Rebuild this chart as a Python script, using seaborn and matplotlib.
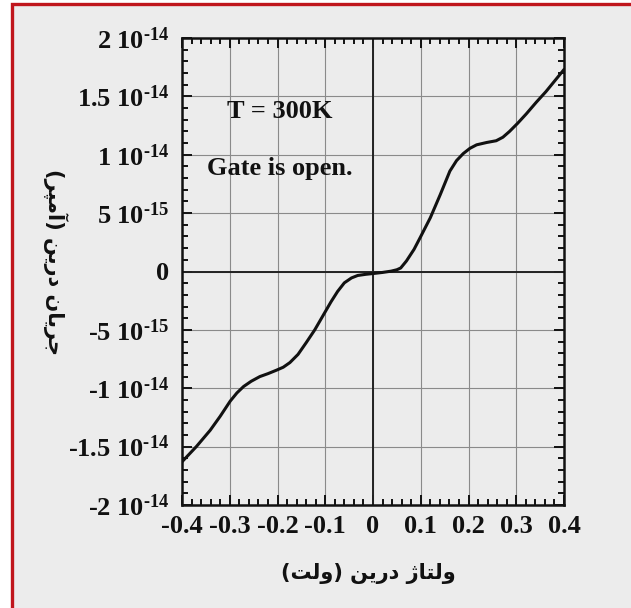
import matplotlib
matplotlib.use("Agg")
import matplotlib.pyplot as plt
from matplotlib.patches import Rectangle
from matplotlib.ticker import MultipleLocator, FixedLocator, FixedFormatter
import seaborn as sns
import pandas as pd

# Drain voltage (V) and drain current (in units of 1e-15 A) of the single-electron transistor
drain_voltage = [-0.400, -0.370, -0.341, -0.320, -0.299, -0.285, -0.271, -0.255, -0.237,
                 -0.220, -0.202, -0.188, -0.174, -0.157, -0.140, -0.122, -0.105, -0.088,
                 -0.074, -0.060, -0.045, -0.032, -0.015, 0.001, 0.020, 0.038, 0.050,
                 0.058, 0.070, 0.086, 0.100, 0.120, 0.141, 0.161, 0.175, 0.189, 0.203,
                 0.217, 0.238, 0.258, 0.272, 0.286, 0.303, 0.321, 0.342, 0.362, 0.380, 0.400]
drain_current_fA = [-16.3, -15.0, -13.6, -12.4, -11.1, -10.4, -9.85, -9.4, -9.0,
                    -8.75, -8.45, -8.2, -7.8, -7.1, -6.1, -5.0, -3.8, -2.6,
                    -1.7, -0.97, -0.55, -0.34, -0.24, -0.17, -0.08, 0.03, 0.15,
                    0.3, 0.9, 1.9, 3.0, 4.6, 6.6, 8.6, 9.5, 10.1, 10.55,
                    10.85, 11.05, 11.2, 11.5, 12.0, 12.7, 13.5, 14.5, 15.4, 16.3, 17.3]

x_ticks = [-0.4, -0.3, -0.2, -0.1, 0.0, 0.1, 0.2, 0.3, 0.4]
x_tick_labels = ["-0.4", "-0.3", "-0.2", "-0.1", "0", "0.1", "0.2", "0.3", "0.4"]
y_ticks = [2e-14, 1.5e-14, 1e-14, 5e-15, 0.0, -5e-15, -1e-14, -1.5e-14, -2e-14]
y_tick_labels = ["2 10$^{\u201014}$", "1.5 10$^{\u201014}$", "1 10$^{\u201014}$",
                 "5 10$^{\u201015}$", "0", "-5 10$^{\u201015}$", "-1 10$^{\u201014}$",
                 "-1.5 10$^{\u201014}$", "-2 10$^{\u201014}$"]

# Persian axis titles, written in shaped presentation forms, visual (left-to-right) order
x_title = "(\uFE96\uFEDF\uFEED) \uFEE6\uFBFE\uFEAD\uFEA9 \uFB8A\uFE8E\uFE98\uFEDF\uFEED"
y_title = "(\uFEAE\uFB59\uFEE3\uFE81) \uFEE6\uFBFE\uFEAD\uFEA9 \uFEE5\uFE8E\uFBFE\uFEAE\uFE9F"

sns.set_theme(style="ticks")
plt.rcParams["font.family"] = ["Liberation Serif", "DejaVu Sans"]
plt.rcParams["font.weight"] = "bold"
plt.rcParams["mathtext.fontset"] = "custom"
plt.rcParams["mathtext.rm"] = "Liberation Serif:bold"
plt.rcParams["mathtext.it"] = "Liberation Serif:bold"
plt.rcParams["mathtext.bf"] = "Liberation Serif:bold"

W, H = 631, 608
bg = "#ececec"
fig = plt.figure(figsize=(W / 100, H / 100), dpi=100, facecolor="white")

# Framed panel with a red border along the left and top
fig.patches.append(Rectangle((11.5 / W, -0.1), 1.2, 1 - 4.5 / H + 0.1,
                             transform=fig.transFigure, facecolor=bg,
                             edgecolor="#c0161d", linewidth=2.4, zorder=-5))

ax = fig.add_axes([182 / W, 1 - 505 / H, (564 - 182) / W, (505 - 38) / H])
ax.set_zorder(1)
ax.set_facecolor(bg)

df = pd.DataFrame({"V": drain_voltage,
                   "I": [v * 1e-15 for v in drain_current_fA]})

ax.grid(True, which="major", color="#8a8a8a", linewidth=0.8)
ax.axhline(0, color="#222222", linewidth=1.4, zorder=2)
ax.axvline(0, color="#222222", linewidth=1.4, zorder=2)

sns.lineplot(data=df, x="V", y="I", ax=ax, color="#111111", linewidth=2.2,
             estimator=None, sort=False, zorder=3)

ax.set_xlim(-0.4, 0.4)
ax.set_ylim(-2e-14, 2e-14)
ax.xaxis.set_major_locator(FixedLocator(x_ticks))
ax.xaxis.set_major_formatter(FixedFormatter(x_tick_labels))
ax.yaxis.set_major_locator(FixedLocator(y_ticks))
ax.yaxis.set_major_formatter(FixedFormatter(y_tick_labels))
ax.xaxis.set_minor_locator(MultipleLocator(0.02))
ax.yaxis.set_minor_locator(MultipleLocator(1e-15))

ax.tick_params(which="both", direction="in", top=True, right=True,
               color="#111111", width=1.4)
ax.tick_params(which="major", length=7, labelsize=19, pad=7,
               labelcolor="#111111")
ax.tick_params(which="minor", length=4)
ax.tick_params(axis="y", which="major", pad=9)
for spine in ax.spines.values():
    spine.set_linewidth(1.8)
    spine.set_color("#111111")

ax.set_xlabel("")
ax.set_ylabel("")

text_style = dict(fontsize=19, fontweight="bold", color="#111111",
                  family=["Liberation Serif"], ha="center", va="center")
ax.text(280 / W, 1 - 112 / H, "T = 300K", transform=fig.transFigure, **text_style)
ax.text(280 / W, 1 - 168 / H, "Gate is open.", transform=fig.transFigure, **text_style)

fig.text(368 / W, 1 - 574 / H, x_title, family=["DejaVu Sans"], fontweight="bold",
         fontsize=15, color="#111111", ha="center", va="center", zorder=2)
fig.text(55 / W, 1 - 262 / H, y_title, family=["DejaVu Sans"], fontweight="bold",
         fontsize=15, color="#111111", ha="center", va="center", rotation=270, zorder=2)

fig.savefig("out.png", dpi=100, facecolor="white")
